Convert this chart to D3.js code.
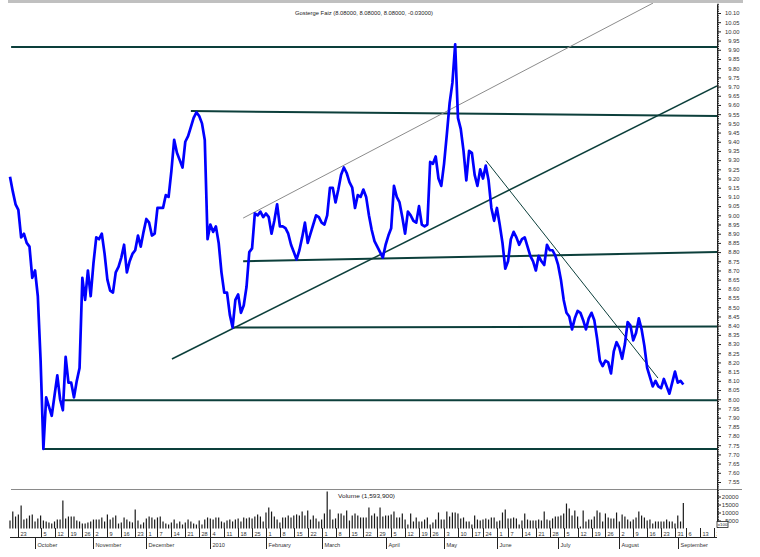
<!DOCTYPE html>
<html><head><meta charset="utf-8">
<script src="https://cdn.jsdelivr.net/npm/d3@7"></script>
<style>
body{margin:0;background:#fff}
svg{display:block;font-family:"Liberation Sans",Arial,sans-serif}
</style>
</head><body>
<svg id="c" width="760" height="557"></svg>
<script>
// ---------- data ----------
const titleText = "Gosterge Faiz (8.08000, 8.08000, 8.08000, -0.03000)";
const volumeLabel = "Volume (1,593,900)";
const firstDate = "2009-09-16";
const lastAxisDate = "2010-09-21";
const holidays = ["2009-09-21","2009-09-22","2009-10-29","2009-11-27","2009-11-30",
  "2010-01-01","2010-04-23","2010-05-19","2010-05-31","2010-08-30"];
const monthLabels = ["October","November","December","2010","February","March","April",
  "May","June","July","August","September"];

const closePrices = [
 9.21,9.13,9.06,9.03,8.88,8.90,8.85,8.83,8.66,8.70,
 8.56,8.21,7.73,8.01,7.96,7.91,8.02,8.13,8.00,7.94,
 8.23,8.09,8.09,8.01,8.10,8.17,8.66,8.54,8.70,8.56,
 8.74,8.88,8.87,8.90,8.79,8.65,8.59,8.58,8.69,8.72,
 8.77,8.84,8.69,8.75,8.79,8.81,8.89,8.83,8.91,8.98,
 8.96,8.89,8.90,9.04,9.04,9.04,9.11,9.10,9.24,9.41,
 9.34,9.30,9.26,9.40,9.43,9.48,9.53,9.56,9.54,9.50,
 9.41,8.87,8.95,8.91,8.94,8.85,8.69,8.58,8.58,8.46,
 8.39,8.54,8.57,8.47,8.51,8.61,8.80,8.82,9.01,9.00,
 9.02,8.99,9.01,8.99,8.90,8.97,9.06,8.94,8.94,8.93,
 8.90,8.84,8.80,8.76,8.81,8.88,8.96,8.85,8.90,8.95,
 9.00,8.99,8.96,8.95,9.00,9.15,9.15,9.07,9.14,9.22,
 9.26,9.23,9.18,9.15,9.04,9.11,9.10,9.14,9.10,9.00,
 8.92,8.86,8.83,8.80,8.77,8.84,8.89,8.93,9.16,9.10,
 9.07,8.99,8.90,9.02,9.00,8.97,8.96,9.05,8.95,8.94,
 8.95,9.29,9.28,9.32,9.20,9.16,9.28,9.44,9.61,9.72,
 9.93,9.53,9.47,9.35,9.19,9.35,9.34,9.22,9.16,9.25,
 9.20,9.27,9.19,9.04,8.97,9.04,8.95,8.85,8.71,8.75,
 8.87,8.91,8.88,8.84,8.87,8.88,8.83,8.78,8.75,8.70,
 8.78,8.75,8.73,8.84,8.81,8.81,8.78,8.73,8.65,8.54,
 8.47,8.45,8.38,8.44,8.48,8.47,8.43,8.38,8.44,8.47,
 8.43,8.33,8.21,8.18,8.21,8.20,8.14,8.26,8.31,8.28,
 8.22,8.30,8.42,8.40,8.32,8.36,8.44,8.38,8.29,8.17,
 8.12,8.07,8.10,8.07,8.06,8.11,8.07,8.03,8.09,8.15,
 8.09,8.10,8.08
];

// volume in units of 100 (axis shows x100)
const volumes = [
 5000,10600,7500,8800,14400,5600,6300,8100,8800,4400,
 6300,8100,5000,4400,3800,3100,4400,5600,5600,17500,
 6300,7500,7500,7500,5000,4400,3100,3100,3800,4400,
 5600,5600,5600,6900,4400,8800,5600,6900,8100,3100,
 3800,6900,5600,4400,3800,11900,5000,2500,3800,6300,
 7500,6900,5600,6900,7500,4400,3100,2500,3800,5600,
 3100,4400,2500,3800,5600,4400,3100,2500,5000,2500,
 5600,6900,6300,5600,6900,6900,4400,3800,5000,5600,
 4400,5600,6300,4400,6900,6300,6900,6300,7500,8800,
 7500,4400,10000,13100,10600,7500,5600,3800,6900,6900,
 8100,6900,8100,8800,8100,10600,8100,11300,5600,8100,
 6300,4400,5600,9400,23100,11900,5600,6300,9400,9400,
 8100,11300,5000,8100,9400,8100,6900,6900,6900,13100,
 8100,9400,7500,
 13100,7500,8100,8100,8800,10600,6900,6900,9400,5600,
 2500,9400,4400,6900,4400,4400,5600,6900,2500,3800,
 5600,10000,5600,5600,10600,7500,10000,10000,9400,
 6300,6900,4400,4400,2500,8100,5600,5000,5600,6300,
 5600,6900,6900,4400,5000,10000,11900,6300,6300,
 6900,6300,2500,5000,9400,5600,5000,5000,5000,5600,
 5000,10600,5600,5000,6300,7500,7500,8100,9400,15600,
 12500,8100,11300,7500,1300,11300,4400,5600,5600,
 7500,11300,10000,4400,9400,6900,6300,6300,10000,4400,
 8800,7500,5600,4400,5600,6900,10600,8100,6900,
 5000,5600,3100,4400,4400,4400,4400,5600,4400,4400,
 3100,8100,4400,15939
];
const volumeTicks = [5000, 10000, 15000, 20000];
const priceTickLabels = ["7.55","7.60","7.65","7.70","7.75","7.80","7.85","7.90","7.95",
 "8.00","8.05","8.10","8.15","8.20","8.25","8.30","8.35","8.40","8.45","8.50","8.55",
 "8.60","8.65","8.70","8.75","8.80","8.85","8.90","8.95","9.00","9.05","9.10","9.15",
 "9.20","9.25","9.30","9.35","9.40","9.45","9.50","9.55","9.60","9.65","9.70","9.75",
 "9.80","9.85","9.90","9.95","10.00","10.05","10.10"];

// trend lines: [startIndex, startValue, endIndex, endValue, kind]
const trendLines = [
 [0.4, 9.915, 254.1, 9.915, "level"],
 [65, 9.567, 254.1, 9.54, "level"],
 [83.8, 8.75, 254.1, 8.80, "level"],
 [80.2, 8.39, 254.1, 8.395, "level"],
 [18.7, 7.995, 254.1, 7.995, "level"],
 [11.9, 7.73, 254.1, 7.73, "level"],
 [58.2, 8.219, 254.1, 9.703, "support"],
 [83.8, 8.985, 231.1, 10.154, "channel"],
 [171.1, 9.297, 232.9, 8.115, "down"]
];

// ---------- build trading calendar ----------
const parse = d3.utcParse("%Y-%m-%d"), fmt = d3.utcFormat("%Y-%m-%d");
const hol = new Set(holidays);
const days = [];
for (let d = parse(firstDate); d <= parse(lastAxisDate); d = d3.utcDay.offset(d, 1)) {
  const wd = d.getUTCDay();
  if (wd === 0 || wd === 6 || hol.has(fmt(d))) continue;
  days.push(d);
}

// ---------- scales ----------
const svg = d3.select("#c");
const axisX = 717;
const x = d3.scaleLinear().domain([0, 254.1]).range([10, axisX]);
const y = d3.scaleLinear().domain([7.55, 10.10]).range([482, 13]);
const yv = d3.scaleLinear().domain([0, 20000]).range([528.5, 496.5]);
const ink = "#222";

// top gray bar
svg.append("rect").attr("x", 8).attr("y", 0).attr("width", 735).attr("height", 3).attr("fill", "#c0c0c0");

// title
svg.append("text").attr("x", 295).attr("y", 14.5).attr("font-size", 6).attr("fill", ink)
  .attr("textLength", 138).attr("lengthAdjust", "spacingAndGlyphs").text(titleText);

// panel separator
svg.append("line").attr("x1", 11).attr("x2", 742).attr("y1", 489.5).attr("y2", 489.5)
  .attr("stroke", "#8a8a8a").attr("stroke-width", 1);

// clip for price panel
svg.append("clipPath").attr("id", "pc").append("rect").attr("x", 0).attr("y", 3).attr("width", axisX).attr("height", 486);

const pg = svg.append("g").attr("clip-path", "url(#pc)");

// trend lines
const tStyle = {
  level: {c: "#0c3f3b", w: 2},
  support: {c: "#0c3f3b", w: 1.5},
  channel: {c: "#8c8c8c", w: 1},
  down: {c: "#0c3f3b", w: 1}
};
pg.selectAll("line.t").data(trendLines).join("line").attr("class", "t")
  .attr("x1", d => x(d[0])).attr("y1", d => y(d[1]))
  .attr("x2", d => x(d[2])).attr("y2", d => y(d[3]))
  .attr("stroke", d => tStyle[d[4]].c).attr("stroke-width", d => tStyle[d[4]].w);

// price line
pg.append("path").datum(closePrices)
  .attr("d", d3.line().x((d, i) => x(i)).y(d => y(d)))
  .attr("fill", "none").attr("stroke", "#0000ff").attr("stroke-width", 2.7)
  .attr("stroke-linejoin", "round");

// price axis (right)
const minorVals = d3.range(752, 1016).map(k => k / 100);
svg.append("g").attr("transform", `translate(${axisX},0)`)
  .call(d3.axisRight(y).tickValues(minorVals).tickSize(2).tickFormat(""))
  .call(g => g.select(".domain").remove())
  .call(g => g.selectAll("line").attr("stroke", ink));
const pAxis = svg.append("g").attr("transform", `translate(${axisX},0)`)
  .call(d3.axisRight(y).tickValues(priceTickLabels.map(Number)).tickSize(4)
    .tickFormat((d, i) => priceTickLabels[i]))
  .call(g => g.select(".domain").remove());
pAxis.selectAll("line").attr("stroke", ink);
pAxis.selectAll("text").attr("x", 22.5).attr("text-anchor", "end")
  .attr("font-size", 5.8).attr("font-family", "Liberation Sans, Arial, sans-serif").attr("fill", "#333");

// axis line
svg.append("line").attr("x1", axisX + 0.5).attr("x2", axisX + 0.5).attr("y1", 5).attr("y2", 528)
  .attr("stroke", ink).attr("stroke-width", 1);

// volume bars
svg.append("g").selectAll("line").data(volumes).join("line")
  .attr("x1", (d, i) => x(i)).attr("x2", (d, i) => x(i))
  .attr("y1", yv(0)).attr("y2", d => yv(d))
  .attr("stroke", "#1a1a1a").attr("stroke-width", 1.2);

svg.append("text").attr("x", 338).attr("y", 498).attr("font-size", 6).attr("fill", ink)
  .attr("textLength", 57).attr("lengthAdjust", "spacingAndGlyphs").text(volumeLabel);

// volume axis
svg.append("g").attr("transform", `translate(${axisX},0)`)
  .call(d3.axisRight(yv).tickValues(d3.range(1000, 25000, 1000)).tickSize(2).tickFormat(""))
  .call(g => g.select(".domain").remove())
  .call(g => g.selectAll("line").attr("stroke", ink));
const vAxis = svg.append("g").attr("transform", `translate(${axisX},0)`)
  .call(d3.axisRight(yv).tickValues(volumeTicks).tickSize(4).tickFormat(d3.format("d")))
  .call(g => g.select(".domain").remove());
vAxis.selectAll("line").attr("stroke", ink);
vAxis.selectAll("text").attr("x", 21.5).attr("text-anchor", "end")
  .attr("font-size", 6).attr("font-family", "Liberation Sans, Arial, sans-serif").attr("fill", "#333");
// x100 box
svg.append("rect").attr("x", 717).attr("y", 521.5).attr("width", 11).attr("height", 6)
  .attr("fill", "#fff").attr("stroke", ink).attr("stroke-width", 0.8);
svg.append("text").attr("x", 717.8).attr("y", 526.4).attr("font-size", 4.4).attr("fill", ink).text("x100");

// ---------- time axis ----------
svg.append("clipPath").attr("id", "tc").append("rect").attr("x", 0).attr("y", 520).attr("width", axisX).attr("height", 40);
const tg = svg.append("g").attr("clip-path", "url(#tc)");
tg.append("line").attr("x1", 10).attr("x2", axisX).attr("y1", 537.5).attr("y2", 537.5).attr("stroke", ink);

const weekTicks = [], monthTicks = [];
let lastWeek = -100;
days.forEach((d, i) => {
  if (i === 0) return;
  const p = days[i - 1];
  if (+d3.utcMonday.floor(d) !== +d3.utcMonday.floor(p) && i - lastWeek >= 4) {
    weekTicks.push({i, label: String(d.getUTCDate())});
    lastWeek = i;
  }
  if (d.getUTCMonth() !== p.getUTCMonth()) monthTicks.push({i});
});
monthTicks.forEach((m, k) => m.label = monthLabels[k]);

const wk = tg.selectAll("g.w").data(weekTicks).join("g").attr("class", "w")
  .attr("transform", d => `translate(${Math.round(x(d.i)) + 0.5},0)`);
wk.append("line").attr("y1", 528).attr("y2", 537.5).attr("stroke", ink);
wk.append("text").attr("x", 2).attr("y", 535.5).attr("font-size", 5.6).attr("fill", "#333").text(d => d.label);

const mt = tg.selectAll("g.m").data(monthTicks).join("g").attr("class", "m")
  .attr("transform", d => `translate(${Math.round(x(d.i)) + 0.5},0)`);
mt.append("line").attr("y1", 537.5).attr("y2", 549).attr("stroke", ink);
mt.append("text").attr("x", 2).attr("y", 547).attr("font-size", 5.6).attr("fill", "#333").text(d => d.label);
</script>
</body></html>
